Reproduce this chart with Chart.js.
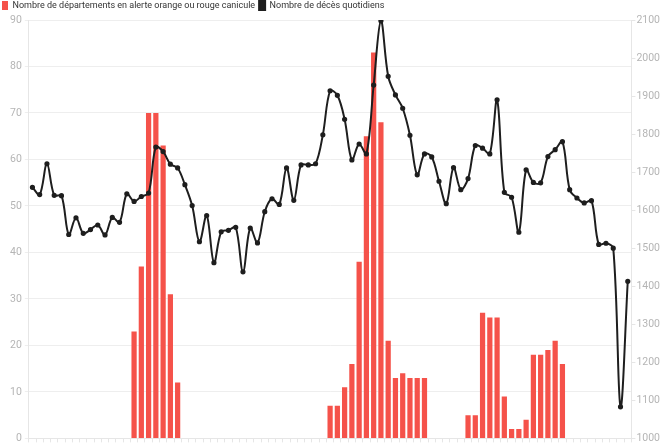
<!DOCTYPE html>
<html>
<head>
<meta charset="utf-8">
<script src="https://cdn.jsdelivr.net/npm/chart.js@4/dist/chart.umd.min.js"></script>
<style>
    html, body { margin: 0; padding: 0; background: #fff; }
    #wrap { width: 661px; height: 444px; }
</style>
</head>
<body>
<div id="wrap"><canvas id="canicule"></canvas></div>
<script>
// one entry per day (83 days), labels not shown on the axis
const days = [
    'j1','j2','j3','j4','j5','j6','j7','j8','j9','j10',
    'j11','j12','j13','j14','j15','j16','j17','j18','j19','j20',
    'j21','j22','j23','j24','j25','j26','j27','j28','j29','j30',
    'j31','j32','j33','j34','j35','j36','j37','j38','j39','j40',
    'j41','j42','j43','j44','j45','j46','j47','j48','j49','j50',
    'j51','j52','j53','j54','j55','j56','j57','j58','j59','j60',
    'j61','j62','j63','j64','j65','j66','j67','j68','j69','j70',
    'j71','j72','j73','j74','j75','j76','j77','j78','j79','j80',
    'j81','j82','j83'
]

// départements en alerte orange / rouge
const alertes = [
    0,0,0,0,0,0,0,0,0,0,
    0,0,0,0,23,37,70,70,63,31,
    12,0,0,0,0,0,0,0,0,0,
    0,0,0,0,0,0,0,0,0,0,
    0,7,7,11,16,38,65,83,68,21,
    13,14,13,13,13,0,0,0,0,0,
    5,5,27,26,26,9,2,2,4,18,
    18,19,21,16,0,0,0,0,0,0,
    0,0,0
]

// décès quotidiens
const deces = [
    1660,1641,1722,1639,1638,1536,1580,1539,1549,1561,
    1535,1581,1568,1643,1623,1636,1645,1766,1754,1721,
    1711,1667,1612,1517,1586,1462,1543,1547,1555,1438,
    1553,1514,1596,1630,1615,1711,1626,1719,1719,1722,
    1798,1914,1902,1839,1732,1774,1748,1929,2098,1952,
    1903,1868,1797,1693,1748,1740,1676,1617,1712,1654,
    1683,1770,1763,1748,1890,1647,1634,1542,1706,1673,
    1672,1741,1759,1780,1654,1632,1619,1625,1510,1513,
    1500,1083,1413
]

// lineHeight kept small so the 0 label doesn't push the plot up
const tickFont = {family: 'Roboto', size: 10.5, lineHeight: 0.5}

const chart = new Chart(
    document.getElementById('canicule').getContext('2d'),
    {
        type: 'bar',
        data: {
            labels: days,
            datasets: [
                {
                    label: 'Nombre de départements en alerte orange ou rouge canicule',
                    data: alertes,
                    backgroundColor: '#f5524a',
                    borderWidth: 0,
                    yAxisID: 'y',
                    order: 1,
                    categoryPercentage: 0.9,
                    barPercentage: 0.8
                },
                {
                    type: 'line',
                    label: 'Nombre de décès quotidiens',
                    data: deces,
                    borderColor: '#1e1e1e',
                    backgroundColor: '#1e1e1e',
                    borderWidth: 2,
                    pointRadius: 1.6,
                    pointHoverRadius: 3,
                    tension: 0.35,
                    yAxisID: 'y1',
                    order: 0
                }
            ]
        },
        options: {
            responsive: true,
            maintainAspectRatio: false,
            animation: false,
            layout: {padding: {left: -2, right: 0, top: -3, bottom: 0}},
            plugins: {
                legend: {
                    position: 'top',
                    align: 'start',
                    labels: {
                        sort: (a, b) => a.datasetIndex - b.datasetIndex,
                        boxWidth: 6,
                        boxHeight: 9,
                        padding: 4,
                        color: '#333',
                        font: {family: 'Roboto', size: 9}
                    }
                },
                tooltip: {enabled: false}
            },
            scales: {
                x: {
                    grid: {drawOnChartArea: false, color: '#e6e6e6', tickLength: 4},
                    border: {color: '#e6e6e6'},
                    ticks: {display: false, padding: 0},
                    afterFit: (scale) => { scale.height = 4 }
                },
                y: {
                    position: 'left',
                    min: 0,
                    max: 90,
                    ticks: {stepSize: 10, color: '#b5b5b5', font: tickFont, padding: 3},
                    grid: {color: '#eeeeee', tickLength: 4},
                    border: {color: '#e6e6e6'},
                    afterFit: (scale) => { scale.width += 9 }
                },
                y1: {
                    position: 'right',
                    min: 1000,
                    max: 2100,
                    ticks: {
                        stepSize: 100,
                        color: '#b5b5b5',
                        font: tickFont,
                        padding: 1,
                        callback: (v) => String(v)
                    },
                    grid: {drawOnChartArea: false, color: '#e6e6e6', tickLength: 4},
                    border: {color: '#e6e6e6'}
                }
            }
        }
    }
)

chart.update()
</script>
</body>
</html>
